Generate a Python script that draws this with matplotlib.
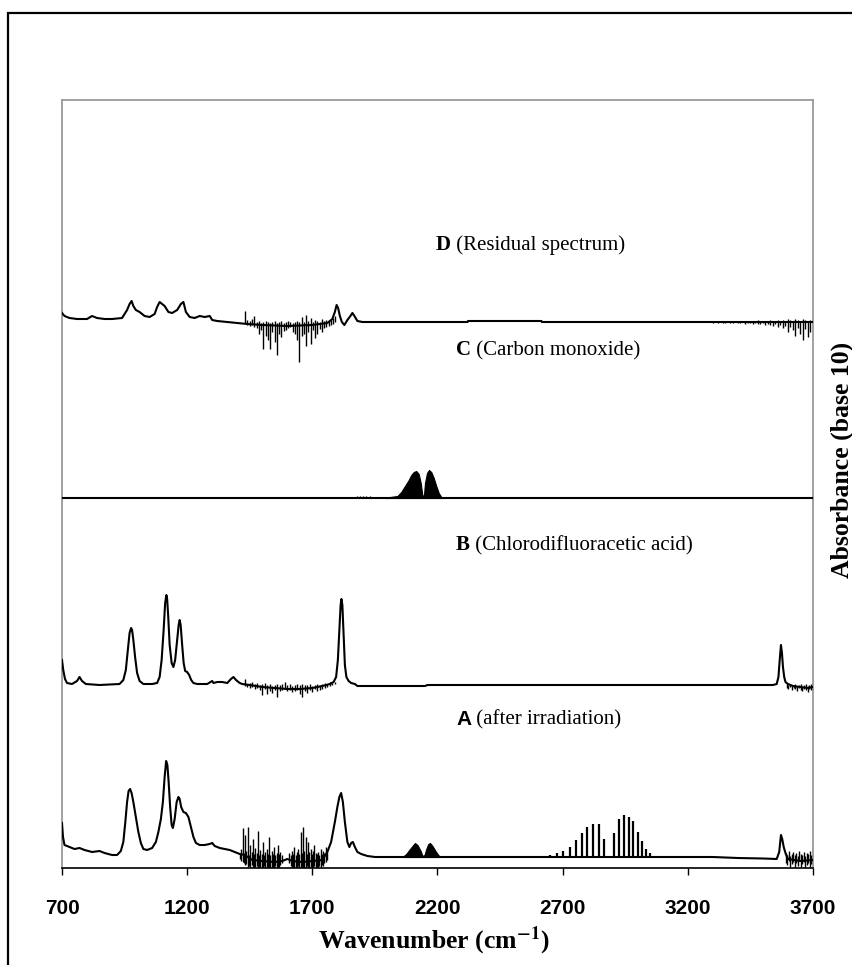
import matplotlib.pyplot as plt
from matplotlib.patches import Rectangle

# all heights below are in hundredths of the plotted absorbance unit
# smooth part of each trace: (wavenumber, height above its own baseline)
spec_a = [(700, 34), (704, 20), (710, 12), (730, 10), (750, 8), (770, 9), (790, 7), (820, 5),
          (850, 6), (870, 4), (900, 2), (920, 2), (935, 6), (945, 15), (953, 35), (960, 55),
          (966, 66), (972, 68), (978, 64), (985, 55), (995, 40), (1005, 25), (1015, 14),
          (1025, 8), (1040, 7), (1060, 9), (1075, 15), (1085, 25), (1095, 38), (1103, 55),
          (1110, 80), (1116, 96), (1121, 92), (1126, 75), (1132, 50), (1138, 32), (1143, 29),
          (1150, 38), (1158, 55), (1165, 60), (1170, 58), (1176, 50), (1185, 45), (1195, 44),
          (1205, 40), (1215, 30), (1225, 20), (1235, 14), (1250, 12), (1270, 12), (1290, 13),
          (1300, 14), (1310, 11), (1330, 9), (1350, 8), (1370, 7), (1390, 5), (1410, 3),
          (1430, 2), (1460, -3), (1500, -4), (1550, -5), (1580, -4), (1600, -2), (1620, -4),
          (1660, -5), (1700, -4), (1740, -3), (1760, 5), (1775, 15), (1790, 35), (1800, 50),
          (1808, 60), (1815, 64), (1822, 55), (1830, 35), (1840, 15), (1848, 10), (1855, 14),
          (1862, 15), (1870, 10), (1880, 5), (1895, 3), (1920, 1), (1950, 0), (3300, 0),
          (3400, -1), (3500, -1.5), (3555, -2), (3565, 5), (3572, 22), (3577, 18), (3583, 10),
          (3590, 4), (3600, -2), (3650, -4), (3700, -3)]

spec_b = [(700, 25), (705, 15), (712, 6), (720, 2), (740, 1), (760, 4), (770, 8), (780, 4),
          (795, 1), (850, 0), (930, 1), (945, 5), (955, 15), (963, 35), (970, 52), (976, 57),
          (980, 55), (985, 45), (992, 28), (1000, 12), (1010, 4), (1025, 1), (1060, 1),
          (1080, 2), (1090, 8), (1098, 25), (1106, 55), (1112, 82), (1117, 90), (1120, 86),
          (1124, 70), (1130, 40), (1138, 22), (1145, 18), (1152, 25), (1160, 45), (1166, 60),
          (1170, 65), (1174, 60), (1180, 40), (1186, 22), (1192, 14), (1200, 13), (1208, 10),
          (1216, 5), (1225, 2), (1240, 1), (1280, 1), (1300, 4), (1305, 2), (1320, 3),
          (1340, 3), (1360, 2), (1375, 6), (1385, 8), (1395, 5), (1410, 2), (1420, 1),
          (1450, 0), (1500, -2), (1550, -3), (1600, -4), (1650, -4), (1700, -3), (1740, -1),
          (1770, 1), (1785, 3), (1795, 8), (1802, 25), (1808, 55), (1813, 80), (1816, 86),
          (1820, 80), (1825, 50), (1830, 20), (1836, 8), (1845, 4), (1855, 2), (1870, 1),
          (1880, -1), (2150, -1), (2160, 0), (3540, 0), (3555, 1), (3562, 8), (3567, 25),
          (3572, 40), (3576, 32), (3580, 18), (3585, 8), (3590, 3), (3600, 1), (3620, -1),
          (3650, -2), (3680, -3), (3700, -2)]

spec_c = [(700, 0), (3700, 0)]

spec_d = [(700, 9), (710, 6), (730, 4), (760, 3), (800, 3), (820, 6), (840, 4), (870, 3),
          (900, 3), (940, 4), (960, 12), (970, 18), (978, 21), (985, 16), (995, 12), (1010, 10),
          (1030, 6), (1050, 5), (1070, 8), (1080, 15), (1090, 20), (1100, 18), (1110, 16),
          (1125, 10), (1140, 9), (1160, 12), (1175, 18), (1185, 20), (1195, 10), (1210, 5),
          (1230, 4), (1250, 6), (1270, 5), (1290, 6), (1300, 2), (1320, 1), (1360, 0),
          (1400, -1), (1440, -2), (1500, -3), (1600, -4), (1700, -3), (1760, -1), (1780, 3),
          (1790, 10), (1797, 17), (1803, 14), (1810, 6), (1818, 0), (1828, -3), (1840, 2),
          (1852, 6), (1860, 9), (1868, 6), (1880, 1), (1900, 0), (2320, 0), (2322, 1),
          (2615, 1), (2617, 0), (3700, 0)]

# CO rotational band envelopes (drawn filled)
co_c = [(1990, 0), (2010, 1), (2040, 2), (2055, 6), (2070, 12), (2085, 18), (2095, 23),
        (2105, 26), (2115, 27), (2125, 24), (2133, 15), (2140, 2), (2146, 3), (2150, 15),
        (2158, 25), (2166, 28), (2175, 26), (2185, 20), (2195, 12), (2205, 5), (2215, 1),
        (2225, 0)]
co_a = [(2060, 0), (2075, 3), (2090, 8), (2103, 12), (2110, 14), (2120, 12), (2133, 6),
        (2140, 1), (2148, 2), (2155, 8), (2163, 13), (2170, 14), (2180, 11), (2192, 6),
        (2203, 2), (2212, 0)]

# HCl rotational lines in trace A
hcl_wn = [2651, 2677, 2703, 2728, 2752, 2776, 2799, 2822, 2844, 2865,
          2906, 2926, 2944, 2963, 2982, 3000, 3017, 3034, 3050]
hcl_h = [2, 4, 6, 10, 17, 24, 30, 33, 33, 18, 24, 38, 42, 40, 36, 25, 16, 8, 4]

# noise spikes: wavenumber, lower end, upper end
a_spk_wn = [1412 + 5 * k for k in range(34)] + [1608 + 5 * k for k in range(31)] \
    + [3592 + 6 * k for k in range(18)]
a_spk_hi = [3, 8, 29, 4, 22, 6, 30, 2, 12, 5, 18, 3, 9, 4, 26, 2, 7, 3, 15, 2, 5, 8, 3, 20,
            2, 6, 3, 10, 2, 4, 12, 3, 5, 2,
            4, 2, 6, 3, 10, 2, 5, 8, 3, 25, 4, 30, 6, 20, 3, 15, 5, 8, 3, 6, 12, 4, 3, 5, 2,
            8, 3, 6, 4, 10, 5,
            4, 2, 6, 1, 3, 5, 2, 4, 1, 6, 3, 2, 5, 1, 4, 3, 6, 2]
a_spk_lo = [-2, -4, -5, -6, -8, -7, -10, -9, -11, -8, -11, -10, -12, -9, -11, -12, -10, -12,
            -11, -9, -12, -10, -12, -11, -12, -10, -12, -11, -9, -12, -10, -11, -8, -6,
            -6, -9, -11, -10, -12, -11, -12, -9, -11, -12, -10, -12, -11, -12, -9, -11, -12,
            -10, -11, -12, -9, -11, -10, -12, -9, -10, -8, -9, -6, -5, -3,
            -6, -8, -4, -10, -7, -5, -11, -6, -9, -4, -10, -7, -5, -11, -8, -6, -10, -7]

b_spk_wn = [1430 + 10 * k for k in range(37)] + [3595 + 7 * k for k in range(15)]
b_spk_hi = [6, 1, 2, 3, 1, 2, 0, 1, 2, 0, 1, -1, 0, 1, 0, 1, 3, 0, 1, -1, 0, 1, 0, 1, 0, 0,
            1, -1, 0, 1, 0, 1, 2, 1, 3, 2, 3,
            2, 0, 1, -1, 0, 1, -1, 0, 1, -2, 0, 1, -1, 0, 1]
b_spk_lo = [-1, -2, -3, -2, -4, -3, -5, -10, -4, -9, -6, -8, -5, -12, -6, -5, -4, -6, -5,
            -7, -6, -5, -9, -12, -6, -8, -5, -7, -4, -6, -5, -4, -3, -2, -1, 0, 1,
            -3, -4, -2, -5, -3, -4, -6, -3, -5, -6, -4, -5, -7, -4, -5]

c_spk_wn = [1878, 1890, 1902, 1915, 1930]
c_spk_hi = [1.5, 1.5, 1.5, 1.5, 1.5]
c_spk_lo = [0, 0, 0, 0, 0]

d_spk_wn = [1432 + 9 * k for k in range(41)] + [3290 + 10 * k for k in range(41)]
d_spk_hi = [11, 2, 1, 3, 6, 0, 1, -1, 0, 1, 0, -1, 0, 1, -1, 0, 1, -1, 0, 1, 0, -1, 0, 1, 0,
            5, 0, 7, 1, 4, 0, 2, 1, 0, 3, 1, 2, 1, 2, 4, 6,
            1, 0, 1, 0, 1, 0, 1, 1, 0, 1, 0, 1, 0, 1, 1, 0, 1, 0, 1, 2, 0, 1, 0, 1, 2, 1, 0,
            2, 1, 2, 1, 3, 2, 1, 3, 2, 1, 3, 2, 1, 2]
d_spk_lo = [-1, -3, -4, -3, -5, -6, -12, -8, -27, -14, -18, -27, -10, -20, -33, -12, -15, -9,
            -8, -6, -5, -10, -12, -18, -40, -14, -12, -24, -10, -22, -8, -16, -12, -7, -10,
            -6, -5, -4, -3, -2, 0,
            0, -1, 0, -1, 0, -1, -1, 0, -1, -1, 0, -1, -1, 0, -2, -1, -1, -2, -1, -2, -2, -1,
            -3, -2, -3, -4, -2, -5, -3, -6, -4, -10, -5, -8, -14, -6, -12, -18, -7, -15, -10]

scale = 0.01
base = {'A': 0.11, 'B': 1.83, 'C': 3.70, 'D': 5.46}

fig = plt.figure(figsize=(8.53, 9.65), dpi=100)
ax = fig.add_axes([62 / 853, 1 - 868 / 965, 751 / 853, 768 / 965])

traces = [('A', spec_a, a_spk_wn, a_spk_lo, a_spk_hi),
          ('B', spec_b, b_spk_wn, b_spk_lo, b_spk_hi),
          ('C', spec_c, c_spk_wn, c_spk_lo, c_spk_hi),
          ('D', spec_d, d_spk_wn, d_spk_lo, d_spk_hi)]
for name, spec, swn, slo, shi in traces:
    y0 = base[name]
    wn, h = zip(*spec)
    ax.plot(wn, [y0 + v * scale for v in h], color='black', lw=1.5, zorder=3)
    ax.vlines(swn, [y0 + v * scale for v in slo], [y0 + v * scale for v in shi],
              color='black', lw=1.0, zorder=3)

for name, env in [('C', co_c), ('A', co_a)]:
    y0 = base[name]
    wn, h = zip(*env)
    ax.fill_between(wn, y0, [y0 + v * scale for v in h], color='black', lw=0.8, zorder=3)

ax.vlines(hcl_wn, base['A'], [base['A'] + v * scale for v in hcl_h], color='black', lw=1.6,
          zorder=3)

ax.set_xlim(700, 3700)
ax.set_ylim(0, 7.68)
ax.set_xticks([700, 1200, 1700, 2200, 2700, 3200, 3700])
ax.set_yticks([])
ax.tick_params(axis='x', direction='out', length=5, width=1, pad=17)
for lab in ax.get_xticklabels():
    lab.set_fontfamily('Liberation Sans')
    lab.set_fontweight('bold')
    lab.set_fontsize(15)
for s in ['left', 'top', 'right']:
    ax.spines[s].set_color('#9a9a9a')
    ax.spines[s].set_linewidth(1.3)
ax.spines['bottom'].set_color('black')
ax.spines['bottom'].set_linewidth(1.2)

serif = ['Liberation Serif', 'DejaVu Serif']
labels = [('D', ' (Residual spectrum)', 2194, 6.13, serif),
          ('C', ' (Carbon monoxide)', 2274, 5.08, serif),
          ('B', ' (Chlorodifluoracetic acid)', 2274, 3.13, serif),
          ('A', ' (after irradiation)', 2274, 1.39, ['Liberation Sans', 'DejaVu Sans'])]
for letter, rest, x, y, fam in labels:
    t = ax.text(x, y, letter, family=fam, fontweight='bold', fontsize=15, va='bottom')
    ax.annotate(rest, xy=(1, 0), xycoords=t, family=serif, fontsize=15, va='bottom')

plt.rcParams['mathtext.fontset'] = 'stix'
fig.text(434 / 853, 1 - 941 / 965, r'Wavenumber (cm$^{\mathbf{-1}}$)', family=serif,
         fontweight='bold', fontsize=18.5, ha='center', va='center')
fig.text(842 / 853, 1 - 460 / 965, 'Absorbance (base 10)', family=serif, fontweight='bold',
         fontsize=18.5, rotation=90, ha='center', va='center')

fig.add_artist(Rectangle((8 / 853, -0.1), 1.2, 1 - 13 / 965 + 0.1, transform=fig.transFigure,
                         fill=False, ec='black', lw=1.6))

fig.savefig('out.png', dpi=100)
